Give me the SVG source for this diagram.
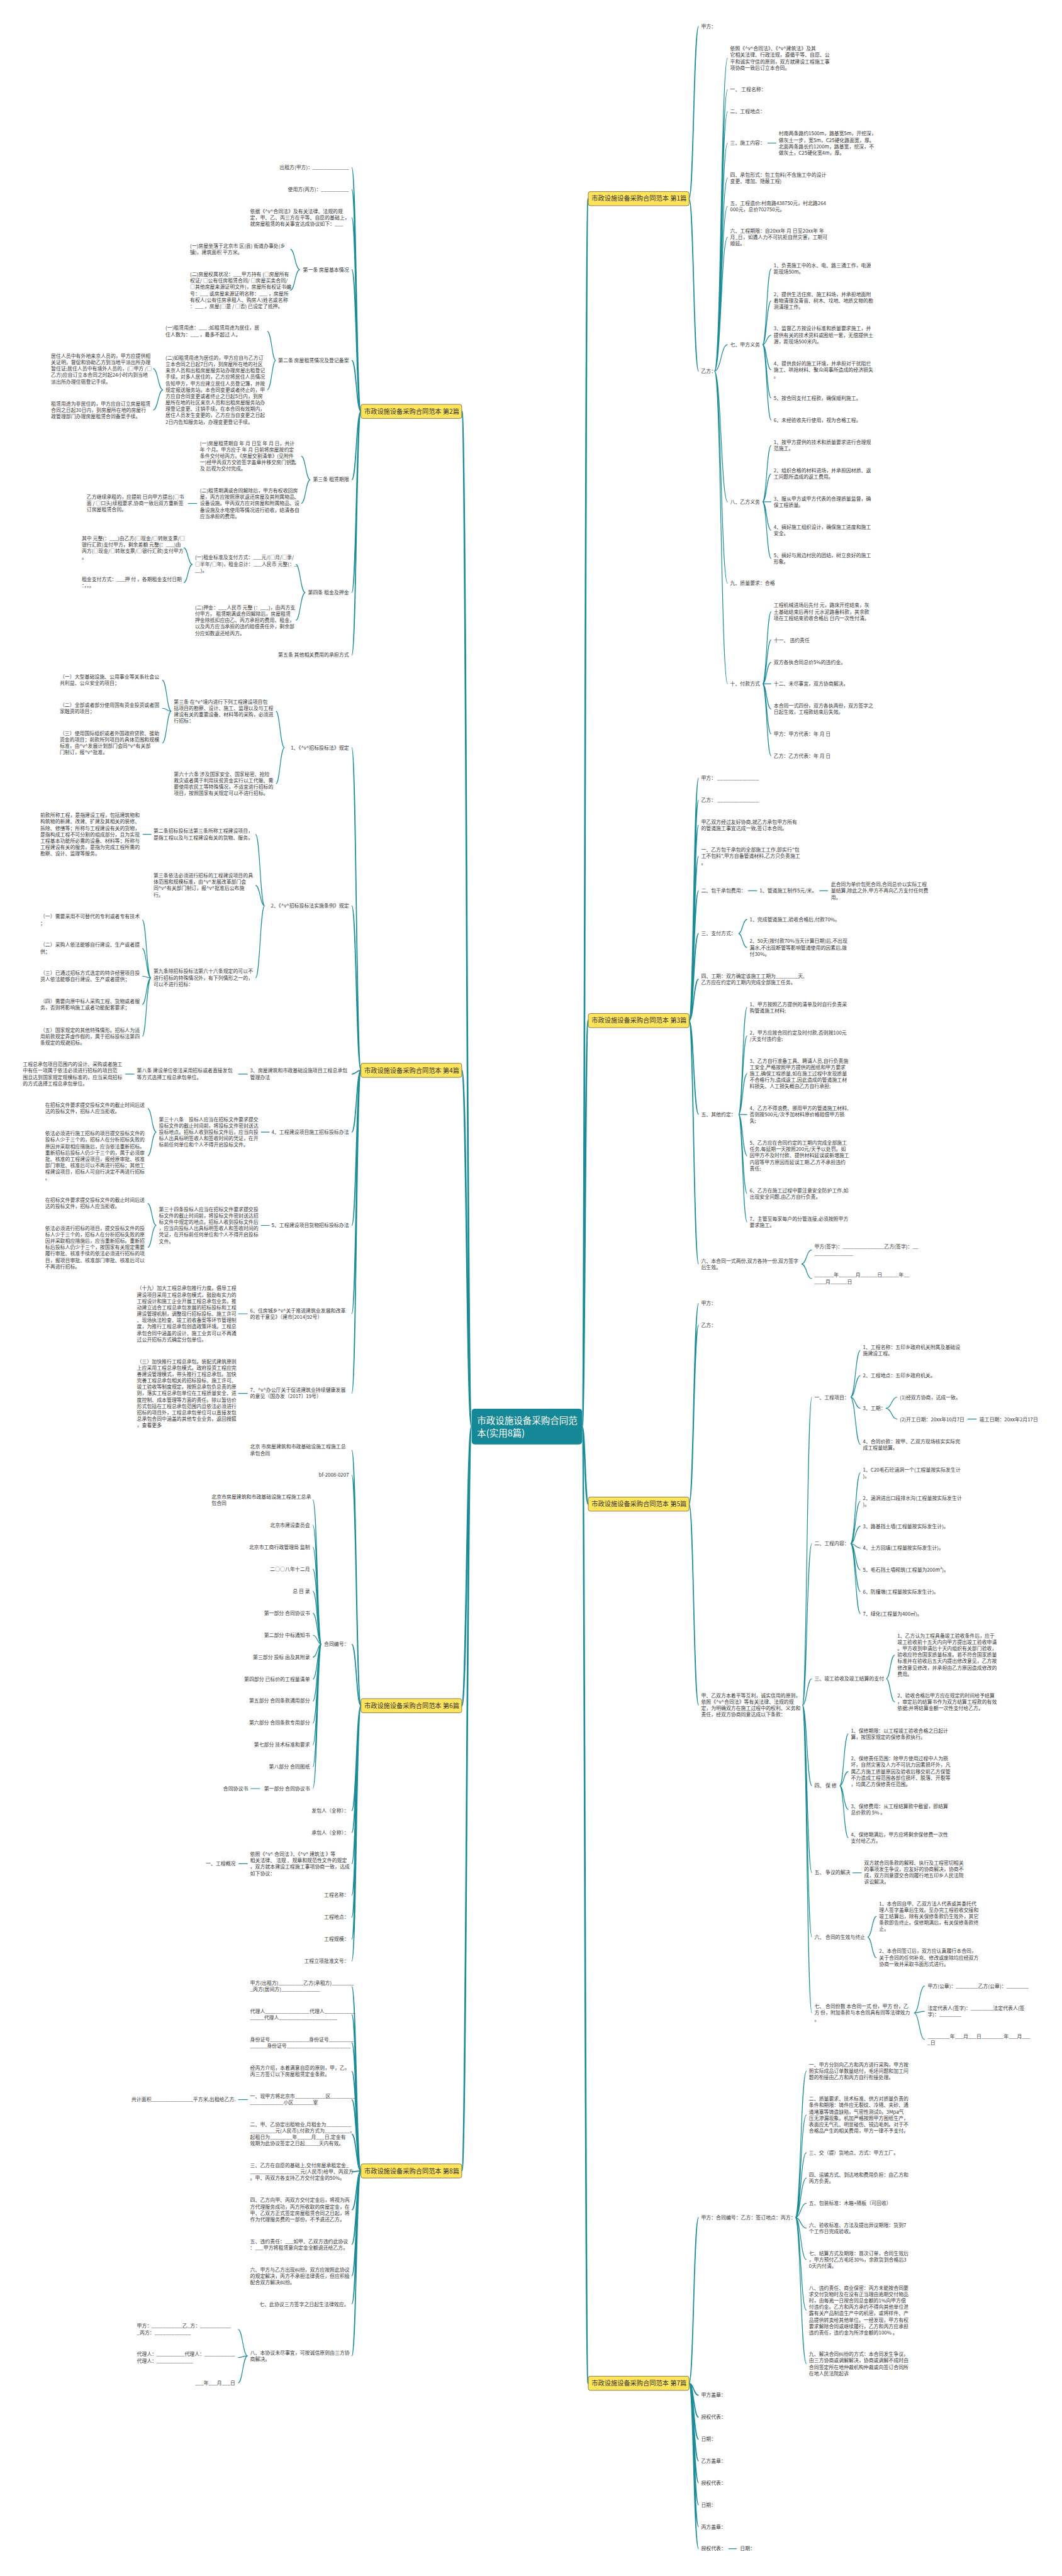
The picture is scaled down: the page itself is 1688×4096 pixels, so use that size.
<svg xmlns="http://www.w3.org/2000/svg" width="1688" height="4096" viewBox="0 0 1688 4096">
<style>
.t{font-family:"Noto Sans CJK SC","Liberation Sans",sans-serif;font-size:12px;fill:#333}
.e{text-anchor:end}
.n{font-family:"Noto Sans CJK SC","Liberation Sans",sans-serif;font-size:15.5px;fill:#333}
.r{font-family:"Noto Sans CJK SC","Liberation Sans",sans-serif;font-size:22px;fill:#fff}
.bx{fill:#ffe45c;stroke:#6b6230;stroke-width:1.2}
.rt{fill:#148896}
.c1{fill:none;stroke:#1a8b97;stroke-width:4}
.c2{fill:none;stroke:#1a8b97;stroke-width:2.6}
.c3{fill:none;stroke:#1a8b97;stroke-width:1.8}
</style>
<rect width="1688" height="4096" fill="#fff"/>
<g transform="scale(0.6594)">
<g id="connectors">
<path class="c1" d="M1403,3440 C1410,3440 1410,479 1418,479 M1403,3440 C1410,3440 1410,2461 1418,2461 M1403,3440 C1410,3440 1410,3627 1418,3627 M1403,3440 C1410,3440 1410,5747 1418,5747 M1137,3440 C1125,3440 1125,992 1113,992 M1137,3440 C1125,3440 1125,2581 1113,2581 M1137,3440 C1125,3440 1125,4113 1113,4113 M1137,3440 C1125,3440 1125,5235 1113,5235"/>
<path class="c2" d="M1661,479 C1672,479 1672,64 1684,64 M1661,479 C1672,479 1672,895 1684,895"/>
<path class="c3" d="M1722,895 C1738,895 1738,140 1754,140 M1722,895 C1738,895 1738,216 1754,216 M1722,895 C1738,895 1738,269 1754,269 M1722,895 C1738,895 1738,345 1754,345 M1722,895 C1738,895 1738,429 1754,429 M1722,895 C1738,895 1738,497 1754,497 M1722,895 C1738,895 1738,572 1754,572 M1722,895 C1738,895 1738,831 1754,831 M1722,895 C1738,895 1738,1210 1754,1210 M1722,895 C1738,895 1738,1407 1754,1407 M1722,895 C1738,895 1738,1649 1754,1649"/>
<path class="c3" d="M1850,345 L1871,345"/>
<path class="c3" d="M1838,831 C1848,831 1848,648 1859,648 M1838,831 C1848,831 1848,725 1859,725 M1838,831 C1848,831 1848,808 1859,808 M1838,831 C1848,831 1848,892 1859,892 M1838,831 C1848,831 1848,960 1859,960 M1838,831 C1848,831 1848,1013 1859,1013"/>
<path class="c3" d="M1838,1210 C1848,1210 1848,1074 1859,1074 M1838,1210 C1848,1210 1848,1143 1859,1143 M1838,1210 C1848,1210 1848,1210 1859,1210 M1838,1210 C1848,1210 1848,1279 1859,1279 M1838,1210 C1848,1210 1848,1347 1859,1347"/>
<path class="c3" d="M1838,1649 C1848,1649 1848,1475 1859,1475 M1838,1649 C1848,1649 1848,1543 1859,1543 M1838,1649 C1848,1649 1848,1597 1859,1597 M1838,1649 C1848,1649 1848,1649 1859,1649 M1838,1649 C1848,1649 1848,1710 1859,1710 M1838,1649 C1848,1649 1848,1770 1859,1770 M1838,1649 C1848,1649 1848,1823 1859,1823"/>
<path class="c2" d="M1661,2461 C1672,2461 1672,1876 1684,1876 M1661,2461 C1672,2461 1672,1929 1684,1929 M1661,2461 C1672,2461 1672,1990 1684,1990 M1661,2461 C1672,2461 1672,2065 1684,2065 M1661,2461 C1672,2461 1672,2148 1684,2148 M1661,2461 C1672,2461 1672,2251 1684,2251 M1661,2461 C1672,2461 1672,2361 1684,2361 M1661,2461 C1672,2461 1672,2687 1684,2687 M1661,2461 C1672,2461 1672,3048 1684,3048"/>
<path class="c3" d="M1803,2148 L1825,2148 M1975,2148 L1996,2148"/>
<path class="c3" d="M1780,2251 C1790,2251 1790,2217 1801,2217 M1780,2251 C1790,2251 1790,2285 1801,2285"/>
<path class="c3" d="M1780,2687 C1790,2687 1790,2429 1801,2429 M1780,2687 C1790,2687 1790,2498 1801,2498 M1780,2687 C1790,2687 1790,2589 1801,2589 M1780,2687 C1790,2687 1790,2688 1801,2688 M1780,2687 C1790,2687 1790,2787 1801,2787 M1780,2687 C1790,2687 1790,2878 1801,2878 M1780,2687 C1790,2687 1790,2947 1801,2947"/>
<path class="c3" d="M1932,3048 C1944,3048 1944,3014 1957,3014 M1932,3048 C1944,3048 1944,3083 1957,3083"/>
<path class="c2" d="M1661,3627 C1672,3627 1672,3143 1684,3143 M1661,3627 C1672,3627 1672,3196 1684,3196 M1661,3627 C1672,3627 1672,4112 1684,4112"/>
<path class="c3" d="M1934,4112 C1945,4112 1945,3369 1957,3369 M1934,4112 C1945,4112 1945,3722 1957,3722 M1934,4112 C1945,4112 1945,4048 1957,4048 M1934,4112 C1945,4112 1945,4306 1957,4306 M1934,4112 C1945,4112 1945,4516 1957,4516 M1934,4112 C1945,4112 1945,4671 1957,4671 M1934,4112 C1945,4112 1945,4854 1957,4854"/>
<path class="c3" d="M2050,3369 C2062,3369 2062,3256 2074,3256 M2050,3369 C2062,3369 2062,3317 2074,3317 M2050,3369 C2062,3369 2062,3396 2074,3396 M2050,3369 C2062,3369 2062,3483 2074,3483"/>
<path class="c3" d="M2135,3396 C2149,3396 2149,3369 2163,3369 M2135,3396 C2149,3396 2149,3422 2163,3422 M2332,3422 L2354,3422"/>
<path class="c3" d="M2050,3722 C2062,3722 2062,3551 2074,3551 M2050,3722 C2062,3722 2062,3620 2074,3620 M2050,3722 C2062,3722 2062,3680 2074,3680 M2050,3722 C2062,3722 2062,3733 2074,3733 M2050,3722 C2062,3722 2062,3786 2074,3786 M2050,3722 C2062,3722 2062,3838 2074,3838 M2050,3722 C2062,3722 2062,3891 2074,3891"/>
<path class="c3" d="M2136,4048 C2146,4048 2146,3991 2157,3991 M2136,4048 C2146,4048 2146,4104 2157,4104"/>
<path class="c3" d="M2024,4306 C2034,4306 2034,4181 2045,4181 M2024,4306 C2034,4306 2034,4272 2045,4272 M2024,4306 C2034,4306 2034,4363 2045,4363 M2024,4306 C2034,4306 2034,4432 2045,4432"/>
<path class="c3" d="M2055,4516 L2077,4516"/>
<path class="c3" d="M2091,4671 C2102,4671 2102,4621 2113,4621 M2091,4671 C2102,4671 2102,4721 2113,4721"/>
<path class="c3" d="M2203,4854 C2216,4854 2216,4789 2229,4789 M2203,4854 C2216,4854 2216,4850 2229,4850 M2203,4854 C2216,4854 2216,4918 2229,4918"/>
<path class="c2" d="M1661,5747 C1672,5747 1672,5347 1684,5347 M1661,5747 C1672,5747 1672,5776 1684,5776 M1661,5747 C1672,5747 1672,5829 1684,5829 M1661,5747 C1672,5747 1672,5882 1684,5882 M1661,5747 C1672,5747 1672,5934 1684,5934 M1661,5747 C1672,5747 1672,5987 1684,5987 M1661,5747 C1672,5747 1672,6040 1684,6040 M1661,5747 C1672,5747 1672,6093 1684,6093 M1661,5747 C1672,5747 1672,6146 1684,6146"/>
<path class="c3" d="M1917,5347 C1930,5347 1930,4994 1944,4994 M1917,5347 C1930,5347 1930,5100 1944,5100 M1917,5347 C1930,5347 1930,5191 1944,5191 M1917,5347 C1930,5347 1930,5252 1944,5252 M1917,5347 C1930,5347 1930,5313 1944,5313 M1917,5347 C1930,5347 1930,5373 1944,5373 M1917,5347 C1930,5347 1930,5449 1944,5449 M1917,5347 C1930,5347 1930,5571 1944,5571 M1917,5347 C1930,5347 1930,5700 1944,5700"/>
<path class="c3" d="M1756,6146 L1776,6146"/>
<path class="c2" d="M870,992 C859,992 859,404 848,404 M870,992 C859,992 859,457 848,457 M870,992 C859,992 859,525 848,525 M870,992 C859,992 859,650 848,650 M870,992 C859,992 859,869 848,869 M870,992 C859,992 859,1157 848,1157 M870,992 C859,992 859,1429 848,1429 M870,992 C859,992 859,1580 848,1580"/>
<path class="c3" d="M723,650 C711,650 711,601 700,601 M723,650 C711,650 711,700 700,700"/>
<path class="c3" d="M665,869 C655,869 655,799 644,799 M665,869 C655,869 655,940 644,940"/>
<path class="c3" d="M393,940 C381,940 381,889 369,889 M393,940 C381,940 381,989 369,989"/>
<path class="c3" d="M748,1157 C737,1157 737,1100 726,1100 M748,1157 C737,1157 737,1214 726,1214"/>
<path class="c3" d="M475,1214 L453,1214"/>
<path class="c3" d="M736,1429 C724,1429 724,1361 713,1361 M736,1429 C724,1429 724,1496 713,1496"/>
<path class="c3" d="M464,1361 C453,1361 453,1321 443,1321 M464,1361 C453,1361 453,1405 443,1405"/>
<path class="c2" d="M870,2581 C859,2581 859,1803 848,1803 M870,2581 C859,2581 859,2184 848,2184 M870,2581 C859,2581 859,2590 848,2590 M870,2581 C859,2581 859,2730 848,2730 M870,2581 C859,2581 859,2955 848,2955 M870,2581 C859,2581 859,3168 848,3168 M870,2581 C859,2581 859,3360 848,3360"/>
<path class="c3" d="M686,1803 C675,1803 675,1715 665,1715 M686,1803 C675,1803 675,1890 665,1890"/>
<path class="c3" d="M413,1715 C402,1715 402,1640 391,1640 M413,1715 C402,1715 402,1708 391,1708 M413,1715 C402,1715 402,1792 391,1792"/>
<path class="c3" d="M638,2184 C627,2184 627,2012 616,2012 M638,2184 C627,2184 627,2135 616,2135 M638,2184 C627,2184 627,2358 616,2358"/>
<path class="c3" d="M365,2012 L344,2012"/>
<path class="c3" d="M364,2358 C353,2358 353,2218 343,2218 M364,2358 C353,2358 353,2287 343,2287 M364,2358 C353,2358 353,2354 343,2354 M364,2358 C353,2358 353,2422 343,2422 M364,2358 C353,2358 353,2499 343,2499"/>
<path class="c3" d="M597,2590 L574,2590 M324,2590 L302,2590"/>
<path class="c3" d="M650,2730 L629,2730 M650,2955 L629,2955"/>
<path class="c3" d="M377,2730 C366,2730 366,2673 356,2673 M377,2730 C366,2730 366,2787 356,2787"/>
<path class="c3" d="M377,2955 C366,2955 366,2902 356,2902 M377,2955 C366,2955 366,3008 356,3008"/>
<path class="c3" d="M597,3168 L574,3168 M597,3360 L574,3360"/>
<path class="c2" d="M870,4113 C859,4113 859,3497 848,3497 M870,4113 C859,4113 859,3557 848,3557 M870,4113 C859,4113 859,3965 848,3965 M870,4113 C859,4113 859,4366 848,4366 M870,4113 C859,4113 859,4419 848,4419 M870,4113 C859,4113 859,4494 848,4494 M870,4113 C859,4113 859,4570 848,4570 M870,4113 C859,4113 859,4623 848,4623 M870,4113 C859,4113 859,4676 848,4676 M870,4113 C859,4113 859,4729 848,4729"/>
<path class="c3" d="M775,3965 C765,3965 765,3617 754,3617 M775,3965 C765,3965 765,3678 754,3678 M775,3965 C765,3965 765,3731 754,3731 M775,3965 C765,3965 765,3784 754,3784 M775,3965 C765,3965 765,3837 754,3837 M775,3965 C765,3965 765,3890 754,3890 M775,3965 C765,3965 765,3943 754,3943 M775,3965 C765,3965 765,3996 754,3996 M775,3965 C765,3965 765,4049 754,4049 M775,3965 C765,3965 765,4102 754,4102 M775,3965 C765,3965 765,4155 754,4155 M775,3965 C765,3965 765,4207 754,4207 M775,3965 C765,3965 765,4260 754,4260 M775,3965 C765,3965 765,4313 754,4313"/>
<path class="c3" d="M627,4313 L604,4313 M597,4494 L575,4494"/>
<path class="c2" d="M870,5235 C859,5235 859,4790 848,4790 M870,5235 C859,5235 859,4858 848,4858 M870,5235 C859,5235 859,4926 848,4926 M870,5235 C859,5235 859,4995 848,4995 M870,5235 C859,5235 859,5063 848,5063 M870,5235 C859,5235 859,5146 848,5146 M870,5235 C859,5235 859,5237 848,5237 M870,5235 C859,5235 859,5329 848,5329 M870,5235 C859,5235 859,5412 848,5412 M870,5235 C859,5235 859,5488 848,5488 M870,5235 C859,5235 859,5556 848,5556 M870,5235 C859,5235 859,5681 848,5681"/>
<path class="c3" d="M597,5063 L574,5063"/>
<path class="c3" d="M597,5681 C585,5681 585,5617 574,5617 M597,5681 C585,5681 585,5685 574,5685 M597,5681 C585,5681 585,5746 574,5746"/>
</g>

<g id="root"><rect class="rt" x="1137" y="3397" width="266" height="86" rx="7"/>
<text class="r" x="1150" y="3434">市政设施设备采购合同范</text><text class="r" x="1150" y="3463">本(实用8篇)</text></g>

<g id="p1">
<rect class="bx" x="1418" y="462" width="243" height="34" rx="5"/><text class="n" x="1426" y="484.5">市政设施设备采购合同范本 第1篇</text>
<text class="t" x="1690" y="68.3">甲方：</text>
<text class="t" x="1690" y="899.3">乙方：</text>
<text class="t" x="1760" y="121.7"><tspan x="1760">依照《^v^合同法》、《^v^建筑法》及其</tspan><tspan x="1760" dy="15.4">它相关法律、行政法规，遵循平等、自愿、公</tspan><tspan x="1760" dy="15.4">平和诚实守信的原则，双方就建设工程施工事</tspan><tspan x="1760" dy="15.4">项协商一致后订立本合同。</tspan></text>
<text class="t" x="1760" y="220.3">一、 工程名称：</text>
<text class="t" x="1760" y="273.3">二、工程地点：</text>
<text class="t" x="1760" y="349.3">三、施工内容：</text>
<text class="t" x="1877" y="326.6"><tspan x="1877">村南两条路约1500m，路基宽5m，开挖深，</tspan><tspan x="1877" dy="15.4">做灰土一步，宽5m，C25硬化路面宽，厚。</tspan><tspan x="1877" dy="15.4">北面两条路长约1200m，路基宽，挖深，不</tspan><tspan x="1877" dy="15.4">做灰土，C25硬化宽4m，厚。</tspan></text>
<text class="t" x="1760" y="425.5"><tspan x="1760">四、承包形式：包工包料(不含施工中的设计</tspan><tspan x="1760" dy="15.4">变更、增加、隐蔽工程)</tspan></text>
<text class="t" x="1760" y="493.8"><tspan x="1760">五、工程造价:村南路438750元，村北路264</tspan><tspan x="1760" dy="15.4">000元，总价702750元。</tspan></text>
<text class="t" x="1760" y="561.4"><tspan x="1760">六、工程期限：自20xx年 月 日至20xx年 年</tspan><tspan x="1760" dy="15.4">月_日，如遇人力不可抗拒自然灾害，工期可</tspan><tspan x="1760" dy="15.4">顺延。</tspan></text>
<text class="t" x="1760" y="835.3">七、甲方义务</text>
<text class="t" x="1865" y="645"><tspan x="1865">1、负责施工中的水、电、路三通工作，电源</tspan><tspan x="1865" dy="15.4">距现场50m。</tspan></text>
<text class="t" x="1865" y="713.7"><tspan x="1865">2、提供生活住房、施工料场，并承担地面附</tspan><tspan x="1865" dy="15.4">着物清理及青苗、树木、坟地、地质文物的勘</tspan><tspan x="1865" dy="15.4">测清理工作。</tspan></text>
<text class="t" x="1865" y="796.9"><tspan x="1865">3、监督乙方按设计标准和质量要求施工，并</tspan><tspan x="1865" dy="15.4">提供有关的技术资料或图纸一套，无偿提供土</tspan><tspan x="1865" dy="15.4">源，距现场500米内。</tspan></text>
<text class="t" x="1865" y="880.4"><tspan x="1865">4、提供良好的施工环境，并承担对干扰阻拦</tspan><tspan x="1865" dy="15.4">施工、哄抢材料、聚众闹事所造成的经济损失</tspan><tspan x="1865" dy="15.4">。</tspan></text>
<text class="t" x="1865" y="964">5、按合同支付工程款，确保顺利施工。</text>
<text class="t" x="1865" y="1017.1">6、未经验收先行使用，视为合格工程。</text>
<text class="t" x="1760" y="1214.1">八、乙方义务</text>
<text class="t" x="1865" y="1070.8"><tspan x="1865">1、按甲方提供的技术和质量要求进行合理规</tspan><tspan x="1865" dy="15.4">范施工。</tspan></text>
<text class="t" x="1865" y="1139.1"><tspan x="1865">2、组织合格的材料进场，并承担因材质、返</tspan><tspan x="1865" dy="15.4">工问题所造成的返工费用。</tspan></text>
<text class="t" x="1865" y="1206.8"><tspan x="1865">3、服从甲方或甲方代表的合理质量监督，确</tspan><tspan x="1865" dy="15.4">保工程质量。</tspan></text>
<text class="t" x="1865" y="1275.1"><tspan x="1865">4、搞好施工组织设计，确保施工进度和施工</tspan><tspan x="1865" dy="15.4">安全。</tspan></text>
<text class="t" x="1865" y="1343.3"><tspan x="1865">5、搞好与周边村民的团结，树立良好的施工</tspan><tspan x="1865" dy="15.4">形象。</tspan></text>
<text class="t" x="1760" y="1411.1">九、质量要求：合格</text>
<text class="t" x="1760" y="1653.2">十、付款方式</text>
<text class="t" x="1865" y="1464.1"><tspan x="1865">工程机械进场后先付 元，路床开挖结束，灰</tspan><tspan x="1865" dy="15.4">土基础结束后再付 元水泥路备料款，其余款</tspan><tspan x="1865" dy="15.4">项在工程结束验收合格后 日内一次性付清。</tspan></text>
<text class="t" x="1865" y="1547.7">十一、 违约责任</text>
<text class="t" x="1865" y="1600.8">双方各执合同总价5%的违约金。</text>
<text class="t" x="1865" y="1653.2">十二、未尽事宜，双方协商解决。</text>
<text class="t" x="1865" y="1706.2"><tspan x="1865">本合同一式四份，双方各执两份，双方签字之</tspan><tspan x="1865" dy="15.4">日起生效，工程款结束后失效。</tspan></text>
<text class="t" x="1865" y="1774.6">甲方：甲方代表：年 月 日</text>
<text class="t" x="1865" y="1827.6">乙方：乙方代表：年 月 日</text>
</g>

<g id="p3">
<rect class="bx" x="1418" y="2444" width="243" height="34" rx="5"/><text class="n" x="1426" y="2466.5">市政设施设备采购合同范本 第3篇</text>
<text class="t" x="1690" y="1880">甲方： _______________</text>
<text class="t" x="1690" y="1933.1">乙方： _______________</text>
<text class="t" x="1690" y="1986.1"><tspan x="1690">甲乙双方经过友好协商,就乙方承包甲方所有</tspan><tspan x="1690" dy="15.4">的管道施工事宜达成一致,签订本合同。</tspan></text>
<text class="t" x="1690" y="2053.8"><tspan x="1690">一、乙方包干承包的全部施工工作,即实行"包</tspan><tspan x="1690" dy="15.4">工不包料",甲方自备管道材料,乙方只负责施工</tspan><tspan x="1690" dy="15.4">。</tspan></text>
<text class="t" x="1690" y="2152.6">二、包干承包费用：</text>
<text class="t" x="1831" y="2152.6">1、管道施工制作5元/米。</text>
<text class="t" x="2003" y="2137.3"><tspan x="2003">此合同为单价包死合同,合同总价以实际工程</tspan><tspan x="2003" dy="15.4">量结算,除此之外,甲方不再向乙方支付任何费</tspan><tspan x="2003" dy="15.4">用。</tspan></text>
<text class="t" x="1690" y="2255.4">三、支付方式：</text>
<text class="t" x="1807" y="2221.6">1、完成管道施工,验收合格后,付款70%。</text>
<text class="t" x="1807" y="2274"><tspan x="1807">2、50天(按付款70%当天计算日期)后,不出现</tspan><tspan x="1807" dy="15.4">漏水,不出现断管等影响管道使用的因素后,拨</tspan><tspan x="1807" dy="15.4">付30%。</tspan></text>
<text class="t" x="1690" y="2357.6"><tspan x="1690">四、工期：双方确定该施工工期为________天,</tspan><tspan x="1690" dy="15.4">乙方应在约定的工期内完成全部施工任务。</tspan></text>
<text class="t" x="1690" y="2691.2">五、其他约定：</text>
<text class="t" x="1807" y="2425.9"><tspan x="1807">1、甲方按照乙方提供的清单及时自行负责采</tspan><tspan x="1807" dy="15.4">购管道施工材料;</tspan></text>
<text class="t" x="1807" y="2494.2"><tspan x="1807">2、甲方应按合同约定及时付款,否则按100元</tspan><tspan x="1807" dy="15.4">/天支付违约金;</tspan></text>
<text class="t" x="1807" y="2562.5"><tspan x="1807">3、乙方自行准备工具、聘请人员,自行负责施</tspan><tspan x="1807" dy="15.4">工安全,严格按照甲方提供的图纸和甲方要求</tspan><tspan x="1807" dy="15.4">施工,确保工程质量,如在施工过程中发现质量</tspan><tspan x="1807" dy="15.4">不合格行为,造成返工,因此造成的管道施工材</tspan><tspan x="1807" dy="15.4">料损失、人工损失概由乙方自行承担;</tspan></text>
<text class="t" x="1807" y="2676.6"><tspan x="1807">4、乙方不得浪费、挪用甲方的管道施工材料,</tspan><tspan x="1807" dy="15.4">否则按500元/次予加材料原价格赔偿甲方损</tspan><tspan x="1807" dy="15.4">失;</tspan></text>
<text class="t" x="1807" y="2760.2"><tspan x="1807">5、乙方应在合同约定的工期内完成全部施工</tspan><tspan x="1807" dy="15.4">任务,每延期一天按照200元/天予以处罚。如</tspan><tspan x="1807" dy="15.4">因甲方不及时付款、提供材料延误或新增施工</tspan><tspan x="1807" dy="15.4">内容等甲方原因而延误工期,乙方不承担违约</tspan><tspan x="1807" dy="15.4">责任;</tspan></text>
<text class="t" x="1807" y="2874.9"><tspan x="1807">6、乙方在施工过程中要注意安全防护工作,如</tspan><tspan x="1807" dy="15.4">出现安全问题,由乙方自行负责。</tspan></text>
<text class="t" x="1807" y="2943.2"><tspan x="1807">7、主管至每家每户的分管连接,必须按照甲方</tspan><tspan x="1807" dy="15.4">要求施工。</tspan></text>
<text class="t" x="1690" y="3044.7"><tspan x="1690">六、本合同一式两份,双方各持一份,双方签字</tspan><tspan x="1690" dy="15.4">后生效。</tspan></text>
<text class="t" x="1963" y="3010.9"><tspan x="1963">甲方(签字)：_______________乙方(签字)：__</tspan><tspan x="1963" dy="15.4">______________</tspan></text>
<text class="t" x="1963" y="3079.2"><tspan x="1963">_______年______月______日______年__</tspan><tspan x="1963" dy="15.4">____月______日</tspan></text>
</g>

<g id="p5">
<rect class="bx" x="1418" y="3610" width="243" height="34" rx="5"/><text class="n" x="1426" y="3632.5">市政设施设备采购合同范本 第5篇</text>
<text class="t" x="1690" y="3147.5">甲方：</text>
<text class="t" x="1690" y="3200.6">乙方：</text>
<text class="t" x="1690" y="4092.7"><tspan x="1690">甲、乙双方本着平等互利，诚实信用的原则，</tspan><tspan x="1690" dy="15.4">依照《^v^合同法》等有关法律、法规的规</tspan><tspan x="1690" dy="15.4">定，为明确双方在施工过程中的权利、义务和</tspan><tspan x="1690" dy="15.4">责任，经双方协商同意达成以下条款：</tspan></text>
<text class="t" x="1963" y="3373.7">一、工程项目：</text>
<text class="t" x="2080" y="3253"><tspan x="2080">1、工程名称：五印乡政府机关附属及基础设</tspan><tspan x="2080" dy="15.4">施建设工程。</tspan></text>
<text class="t" x="2080" y="3321.3">2、工程地点：五印乡政府机关。</text>
<text class="t" x="2080" y="3400.2">3、工期：</text>
<text class="t" x="2169" y="3373.7">(1)经双方协商，达成一致。</text>
<text class="t" x="2169" y="3426.7">(2)开工日期：20xx年10月7日</text>
<text class="t" x="2361" y="3426.7">竣工日期：20xx年2月17日</text>
<text class="t" x="2080" y="3479.8"><tspan x="2080">4、合同价款：按甲、乙双方现场核实实际完</tspan><tspan x="2080" dy="15.4">成工程量结算。</tspan></text>
<text class="t" x="1963" y="3725.9">二、工程内容：</text>
<text class="t" x="2080" y="3548.1"><tspan x="2080">1、C20毛石砼涵洞一个(工程量按实际发生计</tspan><tspan x="2080" dy="15.4">)。</tspan></text>
<text class="t" x="2080" y="3616.4"><tspan x="2080">2、涵洞进出口段排水沟(工程量按实际发生计</tspan><tspan x="2080" dy="15.4">)。</tspan></text>
<text class="t" x="2080" y="3684.7">3、路基挡土墙(工程量按实际发生计)。</text>
<text class="t" x="2080" y="3737.1">4、土方回填(工程量按实际发生计)。</text>
<text class="t" x="2080" y="3790.2">5、毛石挡土墙砌筑(工程量为200m³)。</text>
<text class="t" x="2080" y="3842.6">6、防撞墩(工程量按实际发生计)。</text>
<text class="t" x="2080" y="3895.7">7、绿化(工程量为400㎡)。</text>
<text class="t" x="1963" y="4052.2">三、竣工验收及竣工结算的支付</text>
<text class="t" x="2163" y="3948.8"><tspan x="2163">1、乙方认为工程具备竣工验收条件后，应于</tspan><tspan x="2163" dy="15.4">竣工验收前十五天内向甲方提出竣工验收申请</tspan><tspan x="2163" dy="15.4">。甲方收到申请后十天内组织有关部门验收，</tspan><tspan x="2163" dy="15.4">验收应符合国家质量标准。若不符合国家质量</tspan><tspan x="2163" dy="15.4">标准并在验收后五天内提出修改意见，乙方按</tspan><tspan x="2163" dy="15.4">修改意见修改，并承担由乙方原因造成修改的</tspan><tspan x="2163" dy="15.4">费用。</tspan></text>
<text class="t" x="2163" y="4093.3"><tspan x="2163">2、验收合格后甲方应在规定的时间给予结算</tspan><tspan x="2163" dy="15.4">，审定后的结算书作为双方结算工程款的有效</tspan><tspan x="2163" dy="15.4">依据;并将结算金额一次性支付给乙方。</tspan></text>
<text class="t" x="1963" y="4310.2">四、 保 修</text>
<text class="t" x="2051" y="4177.6"><tspan x="2051">1、保修期限：以工程竣工验收合格之日起计</tspan><tspan x="2051" dy="15.4">算，按国家规定的保修条款执行。</tspan></text>
<text class="t" x="2051" y="4245.2"><tspan x="2051">2、保修责任范围：除甲方使用过程中人为损</tspan><tspan x="2051" dy="15.4">坏，自然灾害及人力不可抗力因素损坏外，凡</tspan><tspan x="2051" dy="15.4">属乙方施工质量原因及验收后移交前乙方保管</tspan><tspan x="2051" dy="15.4">不力造成工程范围各部位损坏、脱落、开裂等</tspan><tspan x="2051" dy="15.4">，均属乙方保修责任范围。</tspan></text>
<text class="t" x="2051" y="4360"><tspan x="2051">3、保修费用：从工程结算款中截留，即结算</tspan><tspan x="2051" dy="15.4">总价款的 5% 。</tspan></text>
<text class="t" x="2051" y="4428.3"><tspan x="2051">4、保修期满后，甲方应将剩余保修费一次性</tspan><tspan x="2051" dy="15.4">支付给乙方。</tspan></text>
<text class="t" x="1963" y="4519.8">五、 争议的解决</text>
<text class="t" x="2083" y="4495.9"><tspan x="2083">双方就合同条款的解释、执行及工程密切相关</tspan><tspan x="2083" dy="15.4">的事项发生争议，应友好的协商解决，协商不</tspan><tspan x="2083" dy="15.4">成，双方同意提交合同履行地五印乡人民法院</tspan><tspan x="2083" dy="15.4">诉讼解决。</tspan></text>
<text class="t" x="1963" y="4675">六、 合同的生效与终止</text>
<text class="t" x="2119" y="4594.8"><tspan x="2119">1、本合同自甲、乙双方法人代表或其委托代</tspan><tspan x="2119" dy="15.4">理人签字盖章后生效。至办完工程验收交接和</tspan><tspan x="2119" dy="15.4">竣工结算后，除有关保修条款仍生效外，其它</tspan><tspan x="2119" dy="15.4">条款即告终止。保修期满后，有关保修条款终</tspan><tspan x="2119" dy="15.4">止。</tspan></text>
<text class="t" x="2119" y="4709.5"><tspan x="2119">2、本合同签订后，双方应认真履行本合同，</tspan><tspan x="2119" dy="15.4">关于合同的任何补充、修改或废除均应经双方</tspan><tspan x="2119" dy="15.4">协商一致并采取书面形式进行。</tspan></text>
<text class="t" x="1963" y="4842.8"><tspan x="1963">七、 合同份数 本合同一式 份，甲方 份，乙</tspan><tspan x="1963" dy="15.4">方 份，附加条款与本合同具有同等法律效力</tspan><tspan x="1963" dy="15.4">。</tspan></text>
<text class="t" x="2236" y="4793.1">甲方(公章)：________乙方(公章)：________</text>
<text class="t" x="2236" y="4846.1"><tspan x="2236">法定代表人(签字)：________法定代表人(签</tspan><tspan x="2236" dy="15.4">字)：________</tspan></text>
<text class="t" x="2236" y="4914.5"><tspan x="2236">________年___月___日________年___月___</tspan><tspan x="2236" dy="15.4">_日</tspan></text>
</g>

<g id="p7">
<rect class="bx" x="1418" y="5730" width="243" height="34" rx="5"/><text class="n" x="1426" y="5752.5">市政设施设备采购合同范本 第7篇</text>
<text class="t" x="1690" y="5351.3">甲方：合同编号：乙方：签订地点：丙方：</text>
<text class="t" x="1950" y="4982.8"><tspan x="1950">一、甲方分别向乙方和丙方进行采购，甲方按</tspan><tspan x="1950" dy="15.4">照实际成品订单数量结付，毛坯问题和加工问</tspan><tspan x="1950" dy="15.4">题的衔接由乙方和丙方自行衔接处理。</tspan></text>
<text class="t" x="1950" y="5065.7"><tspan x="1950">二、质量要求、技术标准、供方对质量负责的</tspan><tspan x="1950" dy="15.4">条件和期限：铸件应无裂纹、冷隔、夹砂、通</tspan><tspan x="1950" dy="15.4">道堵塞等铸造缺陷，气密性测试0。3Mpa气</tspan><tspan x="1950" dy="15.4">压无渗漏现象。机加严格按照甲方图纸生产，</tspan><tspan x="1950" dy="15.4">表面应无气孔、明显碰伤、锐边毛刺。对于不</tspan><tspan x="1950" dy="15.4">合格品产生的相关费用，甲方一律不予支付。</tspan></text>
<text class="t" x="1950" y="5195.7">三、交（提）货地点、方式：甲方工厂。</text>
<text class="t" x="1950" y="5248.1"><tspan x="1950">四、运输方式、到达地和费用负担：由乙方和</tspan><tspan x="1950" dy="15.4">丙方负责。</tspan></text>
<text class="t" x="1950" y="5317.1">五、包装标准：木箱+隔板（可回收）</text>
<text class="t" x="1950" y="5370"><tspan x="1950">六、验收标准、方法及提出异议期限：货到7</tspan><tspan x="1950" dy="15.4">个工作日完成验收。</tspan></text>
<text class="t" x="1950" y="5437.7"><tspan x="1950">七、结算方式及期限：首次订单，合同生效后</tspan><tspan x="1950" dy="15.4">，甲方预付乙方毛坯30%，余款货到合格后3</tspan><tspan x="1950" dy="15.4">0天内付清。</tspan></text>
<text class="t" x="1950" y="5521.5"><tspan x="1950">八、违约责任、商业保密：丙方未能按合同要</tspan><tspan x="1950" dy="15.4">求交付货物时及在没有正当理由逾期交付物品</tspan><tspan x="1950" dy="15.4">时，由每逾一日按合同总金额的1%向甲方偿</tspan><tspan x="1950" dy="15.4">付违约金。乙方和丙方承约不得向其他单位泄</tspan><tspan x="1950" dy="15.4">露有关产品制造生产中的机密，或将样件、产</tspan><tspan x="1950" dy="15.4">品提供转卖给其他单位。一经发现，甲方有权</tspan><tspan x="1950" dy="15.4">要求解除合同或继续履行，乙方和丙方应承担</tspan><tspan x="1950" dy="15.4">违约责任，违约金为所涉金额的100% 。</tspan></text>
<text class="t" x="1950" y="5681.4"><tspan x="1950">九、解决合同纠纷的方式：本合同发生争议，</tspan><tspan x="1950" dy="15.4">由三方协商或调解解决，协商或调解不成时由</tspan><tspan x="1950" dy="15.4">合同签定所在地仲裁机构仲裁或向签订合同所</tspan><tspan x="1950" dy="15.4">在地人民法院起诉</tspan></text>
<text class="t" x="1690" y="5780">甲方盖章：</text>
<text class="t" x="1690" y="5832.9">授权代表：</text>
<text class="t" x="1690" y="5885.8">日期：</text>
<text class="t" x="1690" y="5938.7">乙方盖章：</text>
<text class="t" x="1690" y="5991.5">授权代表：</text>
<text class="t" x="1690" y="6044.4">日期：</text>
<text class="t" x="1690" y="6097.3">丙方盖章：</text>
<text class="t" x="1690" y="6150.1">授权代表：</text>
<text class="t" x="1784" y="6150.1">日期：</text>
</g>

<g id="p2">
<rect class="bx" x="870" y="975" width="243" height="34" rx="5"/><text class="n" x="878" y="997.5">市政设施设备采购合同范本 第2篇</text>
<text class="t e" x="841" y="408.1">出租方(甲方)：_____________</text>
<text class="t e" x="841" y="461">使用方(丙方)：__________</text>
<text class="t" x="603" y="513.9"><tspan x="603">依据《^v^合同法》及有关法律、法规的规</tspan><tspan x="603" dy="15.4">定，甲、乙、丙三方在平等、自愿的基础上，</tspan><tspan x="603" dy="15.4">就房屋租赁的有关事宜达成协议如下：___</tspan></text>
<text class="t e" x="841" y="654.5">第一条 房屋基本情况</text>
<text class="t" x="458" y="597.6"><tspan x="458">(一)房屋坐落于北京市 区(县) 街道办事处(乡</tspan><tspan x="458" dy="15.4">镇)，建筑面积 平方米。</tspan></text>
<text class="t" x="458" y="665.9"><tspan x="458">(二)房屋权属状况：___甲方持有 (□房屋所有</tspan><tspan x="458" dy="15.4">权证/ □公有住房租赁合同/ □房屋买卖合同/</tspan><tspan x="458" dy="15.4">□其他房屋来源证明文件)，房屋所有权证书编</tspan><tspan x="458" dy="15.4">号：___ 或房屋来源证明名称：___ ，房屋所</tspan><tspan x="458" dy="15.4">有权人(公有住房承租人、购房人)姓名或名称</tspan><tspan x="458" dy="15.4">：___ ，房屋(□是 / □否) 已设定了抵押。</tspan></text>
<text class="t e" x="841" y="872.8">第二条 房屋租赁情况及登记备案</text>
<text class="t" x="399" y="795.2"><tspan x="399">(一)租赁用途：___ ;如租赁用途为居住，居</tspan><tspan x="399" dy="15.4">住人数为：___ ，最多不超过 人。</tspan></text>
<text class="t" x="399" y="867.5"><tspan x="399">(二)如租赁用途为居住的，甲方应自与乙方订</tspan><tspan x="399" dy="15.4">立本合同之日起7日内，到房屋所在地的社区</tspan><tspan x="399" dy="15.4">来京人员和出租房屋服务站办理房屋出租登记</tspan><tspan x="399" dy="15.4">手续。对多人居住的，乙方应将居住人员情况</tspan><tspan x="399" dy="15.4">告知甲方，甲方应建立居住人员登记簿，并按</tspan><tspan x="399" dy="15.4">规定报送服务站。本合同变更或者终止的，甲</tspan><tspan x="399" dy="15.4">方应自合同变更或者终止之日起5日内，到房</tspan><tspan x="399" dy="15.4">屋所在地的社区来京人员和出租房屋服务站办</tspan><tspan x="399" dy="15.4">理登记变更、注销手续。在本合同有效期内，</tspan><tspan x="399" dy="15.4">居住人员发生变更的，乙方应当自变更之日起</tspan><tspan x="399" dy="15.4">2日内告知服务站，办理变更登记手续。</tspan></text>
<text class="t" x="123" y="862.8"><tspan x="123">居住人员中有外地来京人员的，甲方应提供相</tspan><tspan x="123" dy="15.4">关证明，督促和协助乙方到当地平派出所办理</tspan><tspan x="123" dy="15.4">暂住证;居住人员中有境外人员的，(□甲方 /□</tspan><tspan x="123" dy="15.4">乙方)应自订立本合同之时起24小时内到当地</tspan><tspan x="123" dy="15.4">派出所办理住宿登记手续。</tspan></text>
<text class="t" x="123" y="978"><tspan x="123">租赁用途为非居住的，甲方应自订立房屋租赁</tspan><tspan x="123" dy="15.4">合同之日起30日内，到房屋所在地的房屋行</tspan><tspan x="123" dy="15.4">政管理部门办理房屋租赁合同备案手续。</tspan></text>
<text class="t e" x="841" y="1160.8">第三条 租赁期限</text>
<text class="t" x="482" y="1073.1"><tspan x="482">(一)房屋租赁期自 年 月 日至 年 月 日，共计</tspan><tspan x="482" dy="15.4">年 个月。甲方应于 年 月 日前将房屋按约定</tspan><tspan x="482" dy="15.4">条件交付给丙方。《房屋交割清单》(见附件</tspan><tspan x="482" dy="15.4">一)经甲丙双方交验签字盖章并移交房门钥匙</tspan><tspan x="482" dy="15.4">及 后视为交付完成。</tspan></text>
<text class="t" x="482" y="1187.6"><tspan x="482">(二)租赁期满或合同解除后，甲方有权收回房</tspan><tspan x="482" dy="15.4">屋，丙方应按照原状返还房屋及其附属物品、</tspan><tspan x="482" dy="15.4">设备设施。甲丙双方应对房屋和附属物品、设</tspan><tspan x="482" dy="15.4">备设施及水电使用等情况进行验收，结清各自</tspan><tspan x="482" dy="15.4">应当承担的费用。</tspan></text>
<text class="t" x="209" y="1202.3"><tspan x="209">乙方继续承租的，应提前 日向甲方提出(□书</tspan><tspan x="209" dy="15.4">面 / □口头)续租要求,协商一致后双方重新签</tspan><tspan x="209" dy="15.4">订房屋租赁合同。</tspan></text>
<text class="t e" x="841" y="1433.3">第四条 租金及押金</text>
<text class="t" x="470" y="1348.9"><tspan x="470">(一)租金标准及支付方式：___元/(□月/□季/</tspan><tspan x="470" dy="15.4">□半年/□年)，租金总计：___人民币 元整(：_</tspan><tspan x="470" dy="15.4">__)。</tspan></text>
<text class="t" x="197" y="1302.1"><tspan x="197">其中 元整(：___)由乙方(□现金/□转账支票/□</tspan><tspan x="197" dy="15.4">银行汇款)支付甲方，剩余差额 元整(：___)由</tspan><tspan x="197" dy="15.4">丙方(□现金/□转账支票/□银行汇款)支付甲方</tspan><tspan x="197" dy="15.4">。</tspan></text>
<text class="t" x="197" y="1401.2"><tspan x="197">租金支付方式：___押 付 ，各期租金支付日期</tspan><tspan x="197" dy="15.4">：，，。</tspan></text>
<text class="t" x="470" y="1469.5"><tspan x="470">(二)押金：___人民币 元整 (：___)，由丙方支</tspan><tspan x="470" dy="15.4">付甲方， 租赁期满或合同解除后，房屋租赁</tspan><tspan x="470" dy="15.4">押金除抵扣应由乙、丙方承担的费用、租金，</tspan><tspan x="470" dy="15.4">以及丙方应当承担的违约赔偿责任外，剩余部</tspan><tspan x="470" dy="15.4">分应如数返还给丙方。</tspan></text>
<text class="t e" x="841" y="1584">第五条 其他相关费用的承担方式</text>
</g>

<g id="p4">
<rect class="bx" x="870" y="2564" width="243" height="34" rx="5"/><text class="n" x="878" y="2586.5">市政设施设备采购合同范本 第4篇</text>
<text class="t e" x="841" y="1807">1、《^v^招标投标法》规定</text>
<text class="t" x="419" y="1696.5"><tspan x="419">第三条 在^v^境内进行下列工程建设项目包</tspan><tspan x="419" dy="15.4">括项目的勘察、设计、施工、监理以及与工程</tspan><tspan x="419" dy="15.4">建设有关的重要设备、材料等的采购，必须进</tspan><tspan x="419" dy="15.4">行招标：</tspan></text>
<text class="t" x="144" y="1636.2"><tspan x="144">（一）大型基础设施、公用事业等关系社会公</tspan><tspan x="144" dy="15.4">共利益、公众安全的项目；</tspan></text>
<text class="t" x="144" y="1704.5"><tspan x="144">（二）全部或者部分使用国有资金投资或者国</tspan><tspan x="144" dy="15.4">家融资的项目；</tspan></text>
<text class="t" x="144" y="1772.8"><tspan x="144">（三）使用国际组织或者外国政府贷款、援助</tspan><tspan x="144" dy="15.4">资金的项目；前款所列项目的具体范围和规模</tspan><tspan x="144" dy="15.4">标准，由^v^发展计划部门会同^v^有关部</tspan><tspan x="144" dy="15.4">门制订，报^v^批准。</tspan></text>
<text class="t" x="419" y="1871.3"><tspan x="419">第六十六条 涉及国家安全、国家秘密、抢险</tspan><tspan x="419" dy="15.4">救灾或者属于利用扶贫资金实行以工代赈、需</tspan><tspan x="419" dy="15.4">要使用农民工等特殊情况，不适宜进行招标的</tspan><tspan x="419" dy="15.4">项目，按照国家有关规定可以不进行招标。</tspan></text>
<text class="t e" x="841" y="2188.7">2、《^v^招标投标法实施条例》规定</text>
<text class="t" x="370" y="2008.6"><tspan x="370">第二条招标投标法第三条所称工程建设项目，</tspan><tspan x="370" dy="15.4">是指工程以及与工程建设有关的货物、服务。</tspan></text>
<text class="t" x="97" y="1970.3"><tspan x="97">前款所称工程，是指建设工程，包括建筑物和</tspan><tspan x="97" dy="15.4">构筑物的新建、改建、扩建及其相关的装修、</tspan><tspan x="97" dy="15.4">拆除、修缮等；所称与工程建设有关的货物，</tspan><tspan x="97" dy="15.4">是指构成工程不可分割的组成部分，且为实现</tspan><tspan x="97" dy="15.4">工程基本功能所必需的设备、材料等；所称与</tspan><tspan x="97" dy="15.4">工程建设有关的服务，是指为完成工程所需的</tspan><tspan x="97" dy="15.4">勘察、设计、监理等服务。</tspan></text>
<text class="t" x="370" y="2115.7"><tspan x="370">第三条依法必须进行招标的工程建设项目的具</tspan><tspan x="370" dy="15.4">体范围和规模标准，由^v^发展改革部门会</tspan><tspan x="370" dy="15.4">同^v^有关部门制订，报^v^批准后公布施</tspan><tspan x="370" dy="15.4">行。</tspan></text>
<text class="t" x="370" y="2346.7"><tspan x="370">第九条除招标投标法第六十六条规定的可以不</tspan><tspan x="370" dy="15.4">进行招标的特殊情况外，有下列情形之一的，</tspan><tspan x="370" dy="15.4">可以不进行招标：</tspan></text>
<text class="t" x="97" y="2214.8"><tspan x="97">（一）需要采用不可替代的专利或者专有技术</tspan><tspan x="97" dy="15.4">；</tspan></text>
<text class="t" x="97" y="2283.1"><tspan x="97">（二）采购人依法能够自行建设、生产或者提</tspan><tspan x="97" dy="15.4">供；</tspan></text>
<text class="t" x="97" y="2350.8"><tspan x="97">（三）已通过招标方式选定的特许经营项目投</tspan><tspan x="97" dy="15.4">资人依法能够自行建设、生产或者提供；</tspan></text>
<text class="t" x="97" y="2419"><tspan x="97">（四）需要向原中标人采购工程、货物或者服</tspan><tspan x="97" dy="15.4">务，否则将影响施工或者功能配套要求；</tspan></text>
<text class="t" x="97" y="2488"><tspan x="97">（五）国家规定的其他特殊情形。招标人为适</tspan><tspan x="97" dy="15.4">用前款规定弄虚作假的，属于招标投标法第四</tspan><tspan x="97" dy="15.4">条规定的规避招标。</tspan></text>
<text class="t" x="603" y="2586.4"><tspan x="603">3、房屋建筑和市政基础设施项目工程总承包</tspan><tspan x="603" dy="15.4">管理办法</tspan></text>
<text class="t" x="330" y="2586.4"><tspan x="330">第八条 建设单位依法采用招标或者直接发包</tspan><tspan x="330" dy="15.4">等方式选择工程总承包单位。</tspan></text>
<text class="t" x="55" y="2571"><tspan x="55">工程总承包项目范围内的设计、采购或者施工</tspan><tspan x="55" dy="15.4">中有任一项属于依法必须进行招标的项目范</tspan><tspan x="55" dy="15.4">围且达到国家规定规模标准的，应当采用招标</tspan><tspan x="55" dy="15.4">的方式选择工程总承包单位。</tspan></text>
<text class="t e" x="841" y="2734.4">4、工程建设项目施工招标投标办法</text>
<text class="t" x="383" y="2703.6"><tspan x="383">第三十八条　投标人应当在招标文件要求提交</tspan><tspan x="383" dy="15.4">投标文件的截止时间前，将投标文件密封送达</tspan><tspan x="383" dy="15.4">投标地点。招标人收到投标文件后，应当向投</tspan><tspan x="383" dy="15.4">标人出具标明签收人和签收时间的凭证，在开</tspan><tspan x="383" dy="15.4">标前任何单位和个人不得开启投标文件。</tspan></text>
<text class="t" x="109" y="2669.5"><tspan x="109">在招标文件要求提交投标文件的截止时间后送</tspan><tspan x="109" dy="15.4">达的投标文件，招标人应当拒收。</tspan></text>
<text class="t" x="109" y="2737.8"><tspan x="109">依法必须进行施工招标的项目提交投标文件的</tspan><tspan x="109" dy="15.4">投标人少于三个的，招标人在分析招标失败的</tspan><tspan x="109" dy="15.4">原因并采取相应措施后，应当依法重新招标。</tspan><tspan x="109" dy="15.4">重新招标后投标人仍少于三个的，属于必须审</tspan><tspan x="109" dy="15.4">批、核准的工程建设项目，报经原审批、核准</tspan><tspan x="109" dy="15.4">部门审批、核准后可以不再进行招标；其他工</tspan><tspan x="109" dy="15.4">程建设项目，招标人可自行决定不再进行招标</tspan><tspan x="109" dy="15.4">。</tspan></text>
<text class="t e" x="841" y="2958.8">5、工程建设项目货物招标投标办法</text>
<text class="t" x="383" y="2920.6"><tspan x="383">第三十四条投标人应当在招标文件要求提交投</tspan><tspan x="383" dy="15.4">标文件的截止时间前，将投标文件密封送达招</tspan><tspan x="383" dy="15.4">标文件中规定的地点。招标人收到投标文件后</tspan><tspan x="383" dy="15.4">，应当向投标人出具标明签收人和签收时间的</tspan><tspan x="383" dy="15.4">凭证，在开标前任何单位和个人不得开启投标</tspan><tspan x="383" dy="15.4">文件。</tspan></text>
<text class="t" x="109" y="2898.5"><tspan x="109">在招标文件要求提交投标文件的截止时间后送</tspan><tspan x="109" dy="15.4">达的投标文件，招标人应当拒收。</tspan></text>
<text class="t" x="109" y="2966.1"><tspan x="109">依法必须进行招标的项目，提交投标文件的投</tspan><tspan x="109" dy="15.4">标人少于三个的，招标人在分析招标失败的原</tspan><tspan x="109" dy="15.4">因并采取相应措施后，应当重新招标。重新招</tspan><tspan x="109" dy="15.4">标后投标人仍少于三个，按国家有关规定需要</tspan><tspan x="109" dy="15.4">履行审批、核准手续的依法必须进行招标的项</tspan><tspan x="109" dy="15.4">目，报项目审批、核准部门审批、核准后可以</tspan><tspan x="109" dy="15.4">不再进行招标。</tspan></text>
<text class="t" x="603" y="3165"><tspan x="603">6、住房城乡^v^关于推进建筑业发展和改革</tspan><tspan x="603" dy="15.4">的若干意见》（建市[2014]92号）</tspan></text>
<text class="t" x="330" y="3111.1"><tspan x="330">（十九）加大工程总承包推行力度。倡导工程</tspan><tspan x="330" dy="15.4">建设项目采用工程总承包模式，鼓励有实力的</tspan><tspan x="330" dy="15.4">工程设计和施工企业开展工程总承包业务。推</tspan><tspan x="330" dy="15.4">动建立适合工程总承包发展的招标投标和工程</tspan><tspan x="330" dy="15.4">建设管理机制，调整现行招标投标、施工许可</tspan><tspan x="330" dy="15.4">、现场执法检查、竣工验收备案等环节管理制</tspan><tspan x="330" dy="15.4">度，为推行工程总承包创造政策环境。工程总</tspan><tspan x="330" dy="15.4">承包合同中涵盖的设计、施工业务可以不再通</tspan><tspan x="330" dy="15.4">过公开招标方式确定分包单位。</tspan></text>
<text class="t" x="603" y="3356.6"><tspan x="603">7、^v^办公厅关于促进建筑业持续健康发展</tspan><tspan x="603" dy="15.4">的意见（国办发〔2017〕19号）</tspan></text>
<text class="t" x="330" y="3287.3"><tspan x="330">（三）加快推行工程总承包。装配式建筑原则</tspan><tspan x="330" dy="15.4">上应采用工程总承包模式。政府投资工程应完</tspan><tspan x="330" dy="15.4">善建设管理模式，带头推行工程总承包。加快</tspan><tspan x="330" dy="15.4">完善工程总承包相关的招标投标、施工许可、</tspan><tspan x="330" dy="15.4">竣工验收等制度规定。按照总承包负总责的原</tspan><tspan x="330" dy="15.4">则，落实工程总承包单位在工程质量安全、进</tspan><tspan x="330" dy="15.4">度控制、成本管理等方面的责任。除以暂估价</tspan><tspan x="330" dy="15.4">形式包括在工程总承包范围内且依法必须进行</tspan><tspan x="330" dy="15.4">招标的项目外，工程总承包单位可以直接发包</tspan><tspan x="330" dy="15.4">总承包合同中涵盖的其他专业业务。返回搜狐</tspan><tspan x="330" dy="15.4">，查看更多</tspan></text>
</g>

<g id="p6">
<rect class="bx" x="870" y="4096" width="243" height="34" rx="5"/><text class="n" x="878" y="4118.5">市政设施设备采购合同范本 第6篇</text>
<text class="t" x="603" y="3493.1"><tspan x="603">北京 市房屋建筑和市政基础设施工程施工总</tspan><tspan x="603" dy="15.4">承包合同</tspan></text>
<text class="t e" x="841" y="3561.4">bf-2008-0207</text>
<text class="t e" x="841" y="3969.3">合同编号：</text>
<text class="t" x="510" y="3613.7"><tspan x="510">北京市房屋建筑和市政基础设施工程施工总承</tspan><tspan x="510" dy="15.4">包合同</tspan></text>
<text class="t e" x="747" y="3682.7">北京市建设委员会</text>
<text class="t e" x="747" y="3735.6">北京市工商行政管理局  监制</text>
<text class="t e" x="747" y="3788.5">二○○八年十二月</text>
<text class="t e" x="747" y="3841.4">总 目 录</text>
<text class="t e" x="747" y="3894.3">第一部分   合同协议书</text>
<text class="t e" x="747" y="3947.2">第二部分   中标通知书</text>
<text class="t e" x="747" y="4000.1">第三部分 投标 函及其附录</text>
<text class="t e" x="747" y="4053">第四部分   已标价的工程量清单</text>
<text class="t e" x="747" y="4105.9">第五部分   合同条款通用部分</text>
<text class="t e" x="747" y="4158.8">第六部分   合同条款专用部分</text>
<text class="t e" x="747" y="4211.7">第七部分   技术标准和要求</text>
<text class="t e" x="747" y="4264.6">第八部分   合同图纸</text>
<text class="t e" x="747" y="4317.5">第一部分   合同协议书</text>
<text class="t e" x="598" y="4317.5">合同协议书</text>
<text class="t e" x="841" y="4370.4">发包人（全称）：</text>
<text class="t e" x="841" y="4423.3">承包人（全称）：</text>
<text class="t" x="603" y="4475.5"><tspan x="603">依照《^v^ 合同法 》、《^v^ 建筑法 》等</tspan><tspan x="603" dy="15.4">相关法律、 法规 、规章和规范性文件的规定</tspan><tspan x="603" dy="15.4">，双方就本建设工程施工事项协商一致，达成</tspan><tspan x="603" dy="15.4">如下协议：</tspan></text>
<text class="t e" x="568" y="4498.6">一、工程概况</text>
<text class="t e" x="841" y="4573.9">工程名称：</text>
<text class="t e" x="841" y="4627.5">工程地点：</text>
<text class="t e" x="841" y="4680.4">工程规模：</text>
<text class="t e" x="841" y="4733.3">工程立项批准文号：</text>
</g>

<g id="p8">
<rect class="bx" x="870" y="5218" width="243" height="34" rx="5"/><text class="n" x="878" y="5240.5">市政设施设备采购合同范本 第8篇</text>
<text class="t" x="603" y="4786.2"><tspan x="603">甲方(出租方)_________乙方(承租方)________</tspan><tspan x="603" dy="15.4">_丙方(居间方)______________</tspan></text>
<text class="t" x="603" y="4854.5"><tspan x="603">代理人________________代理人___________</tspan><tspan x="603" dy="15.4">_____代理人_____________________</tspan></text>
<text class="t" x="603" y="4922.8"><tspan x="603">身份证号______________身份证号_________</tspan><tspan x="603" dy="15.4">______身份证号_______________________</tspan></text>
<text class="t" x="603" y="4991.1"><tspan x="603">经丙方介绍，本着满意自愿的原则，甲，乙，</tspan><tspan x="603" dy="15.4">丙三方签订以下房屋租赁定金条款。</tspan></text>
<text class="t" x="603" y="5059.4"><tspan x="603">一、现甲方将北京市___________区_________</tspan><tspan x="603" dy="15.4">____________小区_______室</tspan></text>
<text class="t e" x="568" y="5067.1">共计面积_______________平方米,出租给乙方.</text>
<text class="t" x="603" y="5127.1"><tspan x="603">二、甲、乙协定出租物业,月租金为_________</tspan><tspan x="603" dy="15.4">_________元(人民币),付款方式为_________，</tspan><tspan x="603" dy="15.4">起租日为________年_____月___日,定金有</tspan><tspan x="603" dy="15.4">效期为此协议签定之日起_____天内有效。</tspan></text>
<text class="t" x="603" y="5226.2"><tspan x="603">三、乙方在自愿的基础上,交付房屋承租定金_</tspan><tspan x="603" dy="15.4">__________________元(人民币)给甲、丙双方</tspan><tspan x="603" dy="15.4">。甲、丙双方各支持乙方交付定金的50%。</tspan></text>
<text class="t" x="603" y="5309.9"><tspan x="603">四、乙方向甲、丙双方交付定金后，将视为丙</tspan><tspan x="603" dy="15.4">方代理服务成功，丙方所收取的房屋定金，在</tspan><tspan x="603" dy="15.4">甲、乙双方正式签定房屋租赁合同之日起，将</tspan><tspan x="603" dy="15.4">作为代理服务费的一部份，不予退还乙方。</tspan></text>
<text class="t" x="603" y="5409"><tspan x="603">五、违约责任：___如甲、乙双方违约此协议</tspan><tspan x="603" dy="15.4">：___甲方将租赁意向定金全额退还给乙方。</tspan></text>
<text class="t" x="603" y="5477.3"><tspan x="603">六、甲方与乙方出现纠纷，双方应按照此协议</tspan><tspan x="603" dy="15.4">的规定解决，丙方不承担法律责任，但应积极</tspan><tspan x="603" dy="15.4">配合双方解决纠纷。</tspan></text>
<text class="t e" x="841" y="5560.6">七、此协议三方签字之日起生法律效应。</text>
<text class="t" x="603" y="5677.8"><tspan x="603">八、本协议未尽事宜，可按诚信原则由三方协</tspan><tspan x="603" dy="15.4">商解决。</tspan></text>
<text class="t" x="330" y="5613.3"><tspan x="330">甲方：___________乙_方：___________</tspan><tspan x="330" dy="15.4">_丙方：_____________</tspan></text>
<text class="t" x="330" y="5681.6"><tspan x="330">代理人：__________代理人：___________</tspan><tspan x="330" dy="15.4">代理人：_____________</tspan></text>
<text class="t e" x="567" y="5750.3">___年___月___日</text>
</g>
</g>
</svg>
